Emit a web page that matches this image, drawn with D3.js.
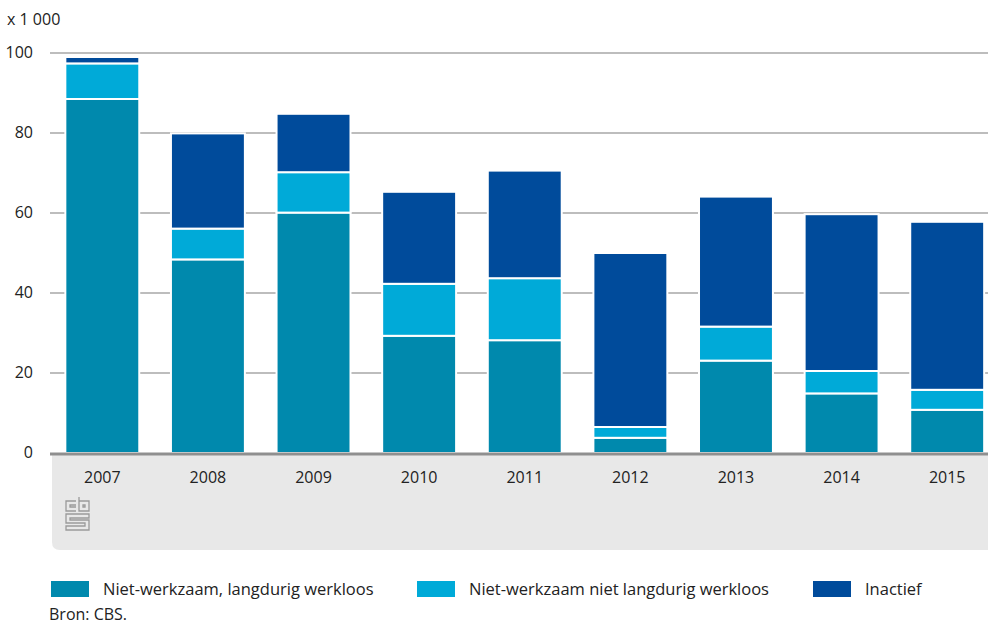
<!DOCTYPE html>
<html>
<head>
<meta charset="utf-8">
<script src="https://cdn.jsdelivr.net/npm/d3@7"></script>
<style>
  body { margin: 0; background: #fff; }
  text { font-family: "Open Sans", "Noto Sans", sans-serif; fill: #222; }
</style>
</head>
<body>
<div id="chart"></div>
<script>
// data (x 1 000)
var years = ["2007", "2008", "2009", "2010", "2011", "2012", "2013", "2014", "2015"]
var langdurig = [88.5, 48.4, 60.1, 29.3, 28.2, 3.8, 23.1, 14.9, 10.8]
var nietLangdurig = [8.9, 7.7, 10.1, 13.0, 15.5, 2.7, 8.5, 5.6, 5.0]
var inactief = [1.6, 23.8, 14.6, 23.0, 26.9, 43.5, 32.5, 39.2, 42.0]
var seriesNames = ["Niet-werkzaam, langdurig werkloos", "Niet-werkzaam niet langdurig werkloos", "Inactief"]
var yTicks = [0, 20, 40, 60, 80, 100]

var colors = ["#0089ad", "#00aad8", "#004b9b"]

var width = 988, height = 625

var svg = d3.select("#chart").append("svg")
            .attr("width", width)
            .attr("height", height)

var table = years.map(function(y, i) {
  return { year: y, a: langdurig[i], b: nietLangdurig[i], c: inactief[i] }
})
var stacked = d3.stack().keys(["a", "b", "c"])(table)

var x = d3.scaleBand().domain(years).range([49.5, 1000]).paddingInner(0.3).paddingOuter(0.15)
var y = d3.scaleLinear().domain([0, 100]).range([453, 53])

// gray panel under axis
svg.append("path")
   .attr("d", "M52,455 H988 V550 H60 Q52,550 52,542 Z")
   .attr("fill", "#e8e8e8")

// gridlines
svg.append("g")
   .selectAll("line")
   .data(yTicks.filter(function(d) { return d > 0 }))
   .join("line")
   .attr("x1", 50)
   .attr("x2", width)
   .attr("y1", function(d) { return y(d) })
   .attr("y2", function(d) { return y(d) })
   .attr("stroke", "#bdbdbd")
   .attr("stroke-width", 2)

// y labels
svg.append("g")
   .selectAll("text")
   .data(yTicks)
   .join("text")
   .attr("x", 33)
   .attr("y", function(d) { return y(d) + 5 })
   .attr("text-anchor", "end")
   .attr("font-size", 16)
   .text(function(d) { return d })

svg.append("text")
   .attr("x", 7)
   .attr("y", 25)
   .attr("font-size", 16)
   .text("x 1 000")

// bars
svg.append("g")
   .selectAll("g")
   .data(stacked)
   .join("g")
   .attr("fill", function(d, i) { return colors[i] })
   .selectAll("rect")
   .data(function(d) { return d })
   .join("rect")
   .attr("x", function(d) { return x(d.data.year) })
   .attr("y", function(d) { return y(d[1]) })
   .attr("width", x.bandwidth())
   .attr("height", function(d) { return y(d[0]) - y(d[1]) })
   .attr("stroke", "#fff")
   .attr("stroke-width", 2)

// axis line
svg.append("line")
   .attr("x1", 50).attr("x2", width)
   .attr("y1", 454).attr("y2", 454)
   .attr("stroke", "#8f8f8f")
   .attr("stroke-width", 3)

// x labels
svg.append("g")
   .selectAll("text")
   .data(years)
   .join("text")
   .attr("x", function(d) { return x(d) + x.bandwidth() / 2 })
   .attr("y", 483)
   .attr("text-anchor", "middle")
   .attr("font-size", 16)
   .text(function(d) { return d })

// cbs logo (rough)
var logo = svg.append("g")
              .attr("transform", "translate(65,497)")
              .attr("fill", "none")
              .attr("stroke", "#9a9a9a")
              .attr("stroke-width", 1.3)
logo.append("path").attr("d", "M11,4 H1 V14 H11 M11,8 H5 V10 H11")
logo.append("path").attr("d", "M14,0 V14 H24 V4 H14 M18,8 V10 H20 V8 Z")
logo.append("path").attr("d", "M24,17 H1 V26 H20 V29 H1 V33 H24 V23 H5 V21 H24 Z")

// legend
var legendX = [51, 417, 813]
var legend = svg.append("g")
                .selectAll("g")
                .data(seriesNames)
                .join("g")
                .attr("transform", function(d, i) { return "translate(" + legendX[i] + ",581)" })
legend.append("rect")
      .attr("width", 38)
      .attr("height", 16)
      .attr("fill", function(d, i) { return colors[i] })
legend.append("text")
      .attr("x", 52)
      .attr("y", 14)
      .attr("font-size", 16.5)
      .text(function(d) { return d })

svg.append("text")
   .attr("x", 49)
   .attr("y", 620)
   .attr("font-size", 16)
   .text("Bron: CBS.")
</script>
</body>
</html>
